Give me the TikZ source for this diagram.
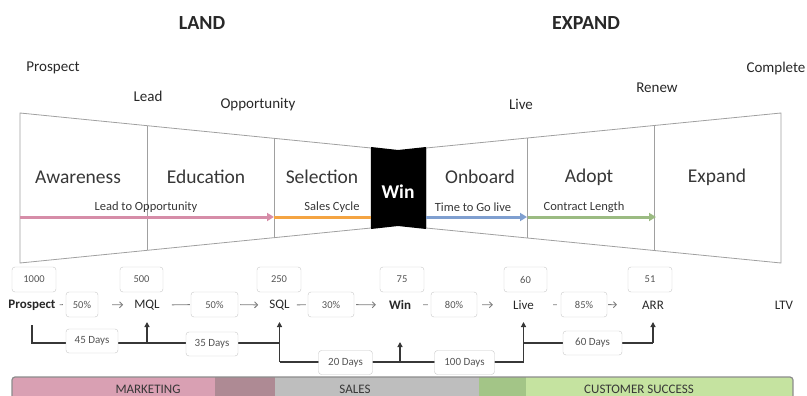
\documentclass[tikz,border=0pt]{standalone}
\usepackage{fontspec}
\setmainfont{Carlito}
\usetikzlibrary{arrows.meta,calc}

\definecolor{inkdark}{RGB}{40,40,40}
\definecolor{inkmid}{RGB}{55,55,55}
\definecolor{inkgray}{RGB}{85,85,85}
\definecolor{edgegray}{RGB}{160,160,160}
\definecolor{boxedge}{RGB}{200,200,200}
\definecolor{linkgray}{RGB}{125,125,125}
\definecolor{pinkflow}{RGB}{214,141,168}
\definecolor{orangeflow}{RGB}{244,164,66}
\definecolor{blueflow}{RGB}{127,159,208}
\definecolor{greenflow}{RGB}{155,187,130}
\definecolor{barpink}{RGB}{217,160,179}
\definecolor{barmauve}{RGB}{174,138,148}
\definecolor{bargray}{RGB}{190,190,190}
\definecolor{bargreen}{RGB}{163,197,135}
\definecolor{barlight}{RGB}{197,227,160}
\definecolor{barframe}{RGB}{140,140,140}

\tikzset{
  phase/.style={text=inkdark, font=\fontsize{20}{22}\selectfont\bfseries},
  milestone/.style={text=inkdark, font=\fontsize{15}{17}\selectfont},
  stage/.style={text=inkmid, font=\fontsize{19.5}{22}\selectfont},
  flowlbl/.style={text=inkmid, font=\fontsize{12.5}{14}\selectfont},
  funnel/.style={draw=edgegray, line width=0.8pt},
  flow/.style={line width=3pt},
  flowtip/.style={-{Triangle[length=7pt,width=8pt]}},
  rowlbl/.style={text=inkdark, font=\fontsize{13}{14}\selectfont, inner sep=3pt},
  tagbox/.style={draw=boxedge, fill=white, rounded corners=3pt, text=inkgray,
    font=\fontsize{10.5}{12}\selectfont, minimum height=25pt, inner sep=1pt},
  daybox/.style={tagbox, minimum height=24pt, font=\fontsize{11}{12}\selectfont},
  link/.style={draw=linkgray, line width=0.9pt},
  linkarrow/.style={link, -{Straight Barb[length=3pt,width=6pt]}},
  span/.style={draw=inkmid, line width=1.2pt},
  spantip/.style={span, -{Triangle[length=5pt,width=5pt]}},
  barlbl/.style={text=inkmid, font=\fontsize{13}{14}\selectfont}
}

\begin{document}
\begin{tikzpicture}[x=1pt,y=-1pt]
\useasboundingbox (0,0) rectangle (807,396);
\clip (0,0) rectangle (807,396);

% headings
\node[phase] (land) at (202,23) {LAND};
\node[phase] (expandh) at (586,23) {EXPAND};

% milestone labels
\node[milestone] (mprospect) at (53,68) {Prospect};
\node[milestone] (mlead) at (148,96) {Lead};
\node[milestone] (mopp) at (258,105) {Opportunity};
\node[milestone] (mlive) at (521,104) {Live};
\node[milestone] (mrenew) at (657,88) {Renew};
\node[milestone] (mcomplete) at (776,69) {Complete};

% bow-tie funnel: land side
\draw[funnel] (20,113) -- (371,148) -- (371,228) -- (20,263) -- cycle;
\draw[funnel] (147,125.7) -- (147,250.3);
\draw[funnel] (274,138.3) -- (274,237.7);
% expand side
\draw[funnel] (426,148) -- (781,113) -- (781,263) -- (426,228) -- cycle;
\draw[funnel] (527,138) -- (527,238);
\draw[funnel] (654,125.5) -- (654,250.5);
% win block
\fill[black] (371,147) -- (398,150) -- (426,147) -- (426,229) -- (398,226) -- (371,229) -- cycle;

% stage names
\node[stage] (awareness) at (78,177) {Awareness};
\node[stage] (education) at (206,177) {Education};
\node[stage] (selection) at (322,177) {Selection};
\node[stage, text=white, font=\fontsize{19.5}{22}\selectfont\bfseries] (winblock) at (398,192) {Win};
\node[stage] (onboard) at (480,177) {Onboard};
\node[stage] (adopt) at (589,177) {Adopt};
\node[stage] (expandst) at (717,177) {Expand};

% duration flows inside the funnel
\coordinate (f0) at (20,217);
\coordinate (f1) at (274,217);
\coordinate (f2) at (371,217);
\coordinate (f3) at (426,217);
\coordinate (f4) at (527,217);
\coordinate (f5) at (528,217);
\coordinate (f6) at (656,217);
\draw[flow, draw=pinkflow, flowtip] (f0) -- (f1);
\draw[flow, draw=orangeflow] (f1) -- (f2);
\draw[flow, draw=blueflow, flowtip] (f3) -- (f4);
\draw[flow, draw=greenflow, flowtip] (f5) -- (f6);
\node[flowlbl] (l2o) at (146,207) {Lead to Opportunity};
\node[flowlbl] (scycle) at (332,207) {Sales Cycle};
\node[flowlbl] (golive) at (473,207) {Time to Go live};
\node[flowlbl] (contract) at (584,207) {Contract Length};

% conversion row
\node[rowlbl, font=\fontsize{13}{14}\selectfont\bfseries] (prospect) at (32,305) {Prospect};
\node[rowlbl] (mql) at (147,305) {MQL};
\node[rowlbl] (sql) at (279.5,305) {SQL};
\node[rowlbl, font=\fontsize{13}{14}\selectfont\bfseries] (win) at (400,305) {Win};
\node[rowlbl] (live) at (523.5,305) {Live};
\node[rowlbl] (arr) at (653,305) {ARR};
\node[rowlbl] (ltv) at (784,305) {LTV};

% volumes
\node[tagbox, minimum width=44pt] (n1) at (34,279.5) {1000};
\node[tagbox, minimum width=43pt] (n2) at (141.5,279.5) {500};
\node[tagbox, minimum width=44pt] (n3) at (279,279.5) {250};
\node[tagbox, minimum width=44pt] (n4) at (402,279.5) {75};
\node[tagbox, minimum width=43pt] (n5) at (525.5,279.5) {60};
\node[tagbox, minimum width=44pt] (n6) at (650,279.5) {51};

% conversion rates
\node[tagbox, minimum width=32pt] (p1) at (82,304.5) {50\%};
\node[tagbox, minimum width=47pt] (p2) at (214.5,304.5) {50\%};
\node[tagbox, minimum width=46pt] (p3) at (331,304.5) {30\%};
\node[tagbox, minimum width=46pt] (p4) at (454,304.5) {80\%};
\node[tagbox, minimum width=46pt] (p5) at (584,304.5) {85\%};

\draw[link, shorten <=1pt, shorten >=3pt] (prospect) -- (p1);
\draw[linkarrow, shorten <=14pt, shorten >=8pt] (p1) -- (mql);
\draw[link, shorten <=9pt, shorten >=1pt] (mql) -- (p2);
\draw[linkarrow, shorten <=2pt, shorten >=8pt] (p2) -- (sql);
\draw[link, shorten <=4pt, shorten >=2pt] (sql) -- (p3);
\draw[linkarrow, shorten <=2pt, shorten >=10pt] (p3) -- (win);
\draw[link, shorten <=9pt, shorten >=3pt] (win) -- (p4);
\draw[linkarrow, shorten <=5pt, shorten >=17pt] (p4) -- (live);
\draw[link, shorten <=16pt, shorten >=4pt] (live) -- (p5);
\draw[linkarrow, shorten <=1pt, shorten >=22pt] (p5) -- (arr);

% elapsed time spans
\draw[span] (prospect |- 0,325) -- (prospect |- 0,343) -- (sql |- 0,343);
\draw[spantip] (mql |- 0,343) -- (mql |- 0,322);
\draw[spantip] (sql |- 0,362) -- (sql |- 0,322);
\draw[span] (sql |- 0,362) -- (live |- 0,362);
\draw[spantip] (win |- 0,362) -- (win |- 0,342);
\draw[spantip] (live |- 0,362) -- (live |- 0,322);
\draw[span] (live |- 0,343) -- (arr |- 0,343);
\draw[spantip] (arr |- 0,343) -- (arr |- 0,322);

\node[daybox, minimum width=52pt] (d1) at (92,341) {45 Days};
\node[daybox, minimum width=52pt] (d2) at (212,344) {35 Days};
\node[daybox, minimum width=54pt] (d3) at (345.5,362.5) {20 Days};
\node[daybox, minimum width=60pt] (d4) at (464.5,362.5) {100 Days};
\node[daybox, minimum width=59pt] (d5) at (592.5,343) {60 Days};

% team ownership bar
\begin{scope}
  \clip[rounded corners=3pt] (12,377) rectangle (793,402);
  \fill[barpink] (12,377) rectangle (215,402);
  \fill[barmauve] (215,377) rectangle (275,402);
  \fill[bargray] (275,377) rectangle (479,402);
  \fill[bargreen] (479,377) rectangle (526,402);
  \fill[barlight] (526,377) rectangle (793,402);
\end{scope}
\draw[draw=barframe, line width=1.2pt, rounded corners=3pt] (12,377) rectangle (793,402);
\node[barlbl] (mkt) at (148,389) {MARKETING};
\node[barlbl] (sales) at (355,389) {SALES};
\node[barlbl] (cs) at (639,389) {CUSTOMER SUCCESS};
\end{tikzpicture}
\end{document}
